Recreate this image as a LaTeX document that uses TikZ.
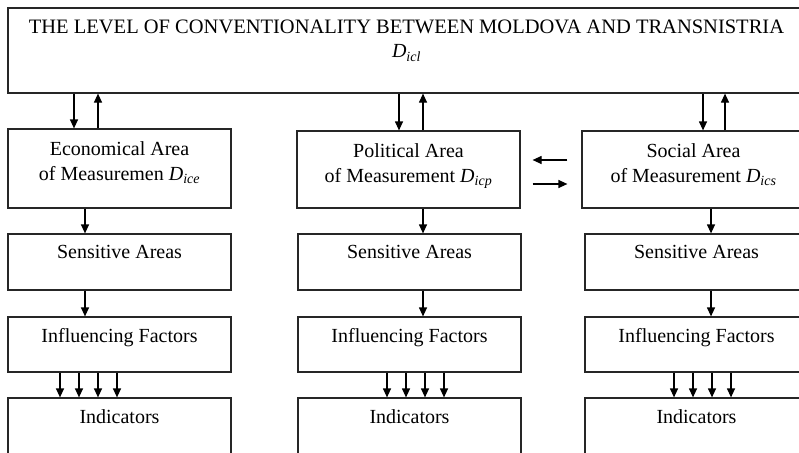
\documentclass[tikz,border=0pt]{standalone}
\usepackage{fontspec}
\setmainfont{Liberation Serif}
\usetikzlibrary{arrows.meta, positioning, calc}

\newcommand{\Dsub}[1]{\textit{D}\textsubscript{\textit{#1}}}

\tikzset{
  box/.style={draw=black!85, line width=1.2pt, minimum width=223pt, inner sep=0pt},
  txt/.style={inner sep=0pt, align=center, font=\fontsize{20}{25}\selectfont},
  arr/.style={-{Triangle[length=9pt, width=8pt]}, line width=1.2pt}
}

\begin{document}
\begin{tikzpicture}[x=1pt, y=-1pt]
  \useasboundingbox[fill=white] (0,0) rectangle (799,452);

  % top level
  \node[box, minimum width=797pt, minimum height=85pt] (level) at (406.5,50.5) {};
  \node[txt, font=\fontsize{20.5}{25}\selectfont, below=12pt of level.north] (levelt) {THE LEVEL OF CONVENTIONALITY BETWEEN MOLDOVA AND TRANSNISTRIA};
  \node[txt, below=11pt of levelt] (leveld) {\Dsub{icl}};

  % areas of measurement
  \node[box, minimum height=79pt] (eco) at (119.5,168.5) {};
  \node[box, minimum height=77pt] (pol) at (408.5,169.5) {};
  \node[box, minimum height=77pt] (soc) at (693.5,169.5) {};
  \node[txt, below=13pt of eco.north] (ecot) {Economical Area\\of Measuremen \Dsub{ice}};
  \node[txt, below=13pt of pol.north] (polt) {Political Area\\of Measurement \Dsub{icp}};
  \node[txt, below=13pt of soc.north] (soct) {Social Area\\of Measurement \Dsub{ics}};

  % lower rows
  \foreach \n/\x in {eco/119.5, pol/409.5, soc/696.5} {
    \node[box, minimum height=56pt] (\n-sens) at (\x,262) {};
    \node[txt, below=12pt of \n-sens.north] (\n-senst) {Sensitive Areas};
    \node[box, minimum height=55pt] (\n-infl) at (\x,344.5) {};
    \node[txt, below=12pt of \n-infl.north] (\n-inflt) {Influencing Factors};
    \node[box, minimum height=72pt] (\n-ind) at (\x,434) {};
    \node[txt, below=12pt of \n-ind.north] (\n-indt) {Indicators};
  }

  % links to the top level
  \foreach \n/\d/\u in {eco/74/98, pol/399/423, soc/703/725} {
    \draw[arr] (level.south -| \d,0) -- (\n.north -| \d,0);
    \draw[arr] (\n.north -| \u,0) -- (level.south -| \u,0);
  }

  % down the columns
  \foreach \n/\x in {eco/85, pol/423, soc/711} {
    \draw[arr] (\n.south -| \x,0) -- (\n-sens.north -| \x,0);
    \draw[arr] (\n-sens.south -| \x,0) -- (\n-infl.north -| \x,0);
  }
  \foreach \n/\x in {eco/60, pol/387, soc/674} {
    \foreach \k [evaluate=\k as \xx using \x+19*\k] in {0,1,2,3} {
      \draw[arr] (\n-infl.south -| \xx,0) -- (\n-ind.north -| \xx,0);
    }
  }

  % political <-> social
  \draw[arr] ($(soc.west)+(-14,-9.5)$) -- ($(pol.east)+(12,-9.5)$);
  \draw[arr] ($(pol.east)+(12,14.5)$) -- ($(soc.west)+(-14,14.5)$);
\end{tikzpicture}
\end{document}
